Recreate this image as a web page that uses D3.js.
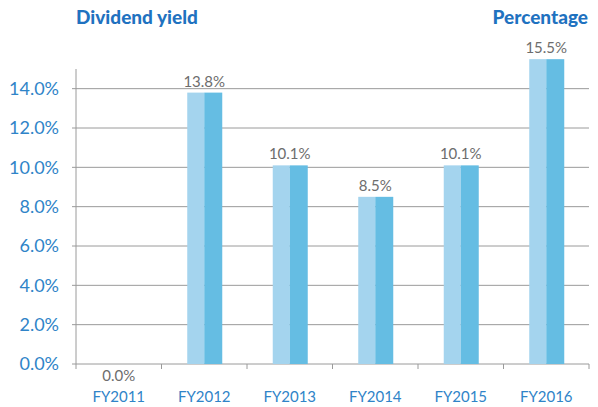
<!DOCTYPE html>
<html>
<head>
<meta charset="utf-8">
<script src="https://cdn.jsdelivr.net/npm/d3@7"></script>
<style>
  body { margin: 0; background: #fff; }
  text { font-family: Lato, "Open Sans", sans-serif; }
</style>
</head>
<body>
<svg id="chart" width="598" height="407"></svg>
<script>
const years = ["FY2011", "FY2012", "FY2013", "FY2014", "FY2015", "FY2016"];
const yields = [0.0, 13.8, 10.1, 8.5, 10.1, 15.5];
const yTicks = [0, 2, 4, 6, 8, 10, 12, 14];

const svg = d3.select("#chart"),
  margin = { top: 69, right: 9, bottom: 43, left: 76 },
  width = +svg.attr("width") - margin.left - margin.right,
  height = +svg.attr("height") - margin.top - margin.bottom;

const chart = svg.append("g")
  .attr("transform", `translate(${margin.left},${margin.top})`);

const x = d3.scaleBand().domain(years).range([0, width]).paddingInner(0).paddingOuter(0);
const y = d3.scaleLinear().domain([0, 15]).range([height, 0]);

// gridlines
chart.append("g")
  .selectAll("line")
  .data(yTicks)
  .join("line")
  .attr("x1", -4)
  .attr("x2", width)
  .attr("y1", (d) => y(d))
  .attr("y2", (d) => y(d))
  .attr("stroke", "#9a9a9a")
  .attr("stroke-width", 1);

// y axis line
chart.append("line")
  .attr("x1", 0).attr("x2", 0)
  .attr("y1", 0).attr("y2", height + 5)
  .attr("stroke", "#9a9a9a");

// x ticks at band edges
const edges = years.map((d) => x(d)).concat([width]);
chart.append("g")
  .selectAll("line")
  .data(edges.slice(1))
  .join("line")
  .attr("x1", (d) => d).attr("x2", (d) => d)
  .attr("y1", height).attr("y2", height + 5)
  .attr("stroke", "#9a9a9a");

// y labels
chart.append("g")
  .selectAll("text")
  .data(yTicks)
  .join("text")
  .attr("x", -17)
  .attr("y", (d) => y(d))
  .attr("dy", "0.35em")
  .attr("text-anchor", "end")
  .attr("fill", "#2f84c8")
  .style("font-size", "18px")
  .text((d) => d.toFixed(1) + "%");

// x labels
chart.append("g")
  .selectAll("text")
  .data(years)
  .join("text")
  .attr("x", (d) => x(d) + x.bandwidth() / 2)
  .attr("y", height + 38)
  .attr("text-anchor", "middle")
  .attr("fill", "#2f84c8")
  .style("font-size", "15px")
  .text((d) => d);

// bars: two tones
const barW = 34;
const data = years.map((d, i) => ({ year: d, v: yields[i] }));
const bars = chart.append("g").selectAll("g").data(data).join("g")
  .attr("transform", (d) => `translate(${x(d.year) + x.bandwidth() / 2 - barW / 2},0)`);

bars.append("rect")
  .attr("x", 0)
  .attr("width", barW / 2)
  .attr("y", (d) => y(d.v))
  .attr("height", (d) => height - y(d.v))
  .attr("fill", "#a4d4ee");

bars.append("rect")
  .attr("x", barW / 2)
  .attr("width", barW / 2 + 1)
  .attr("y", (d) => y(d.v))
  .attr("height", (d) => height - y(d.v))
  .attr("fill", "#65bde3");

// value labels
chart.append("g")
  .selectAll("text")
  .data(data)
  .join("text")
  .attr("x", (d) => x(d.year) + x.bandwidth() / 2)
  .attr("y", (d) => (d.v === 0 ? height + 17 : y(d.v) - 6))
  .attr("text-anchor", "middle")
  .attr("fill", "#6d6d6d")
  .style("font-size", "15px")
  .text((d) => d.v.toFixed(1) + "%");

// titles
svg.append("text")
  .attr("x", 76)
  .attr("y", 24)
  .attr("fill", "#1f72c0")
  .style("font-size", "19px")
  .style("font-weight", "900")
  .text("Dividend yield");

svg.append("text")
  .attr("x", 588)
  .attr("y", 24)
  .attr("text-anchor", "end")
  .attr("fill", "#1f72c0")
  .style("font-size", "19px")
  .style("font-weight", "900")
  .text("Percentage");
</script>
</body>
</html>
